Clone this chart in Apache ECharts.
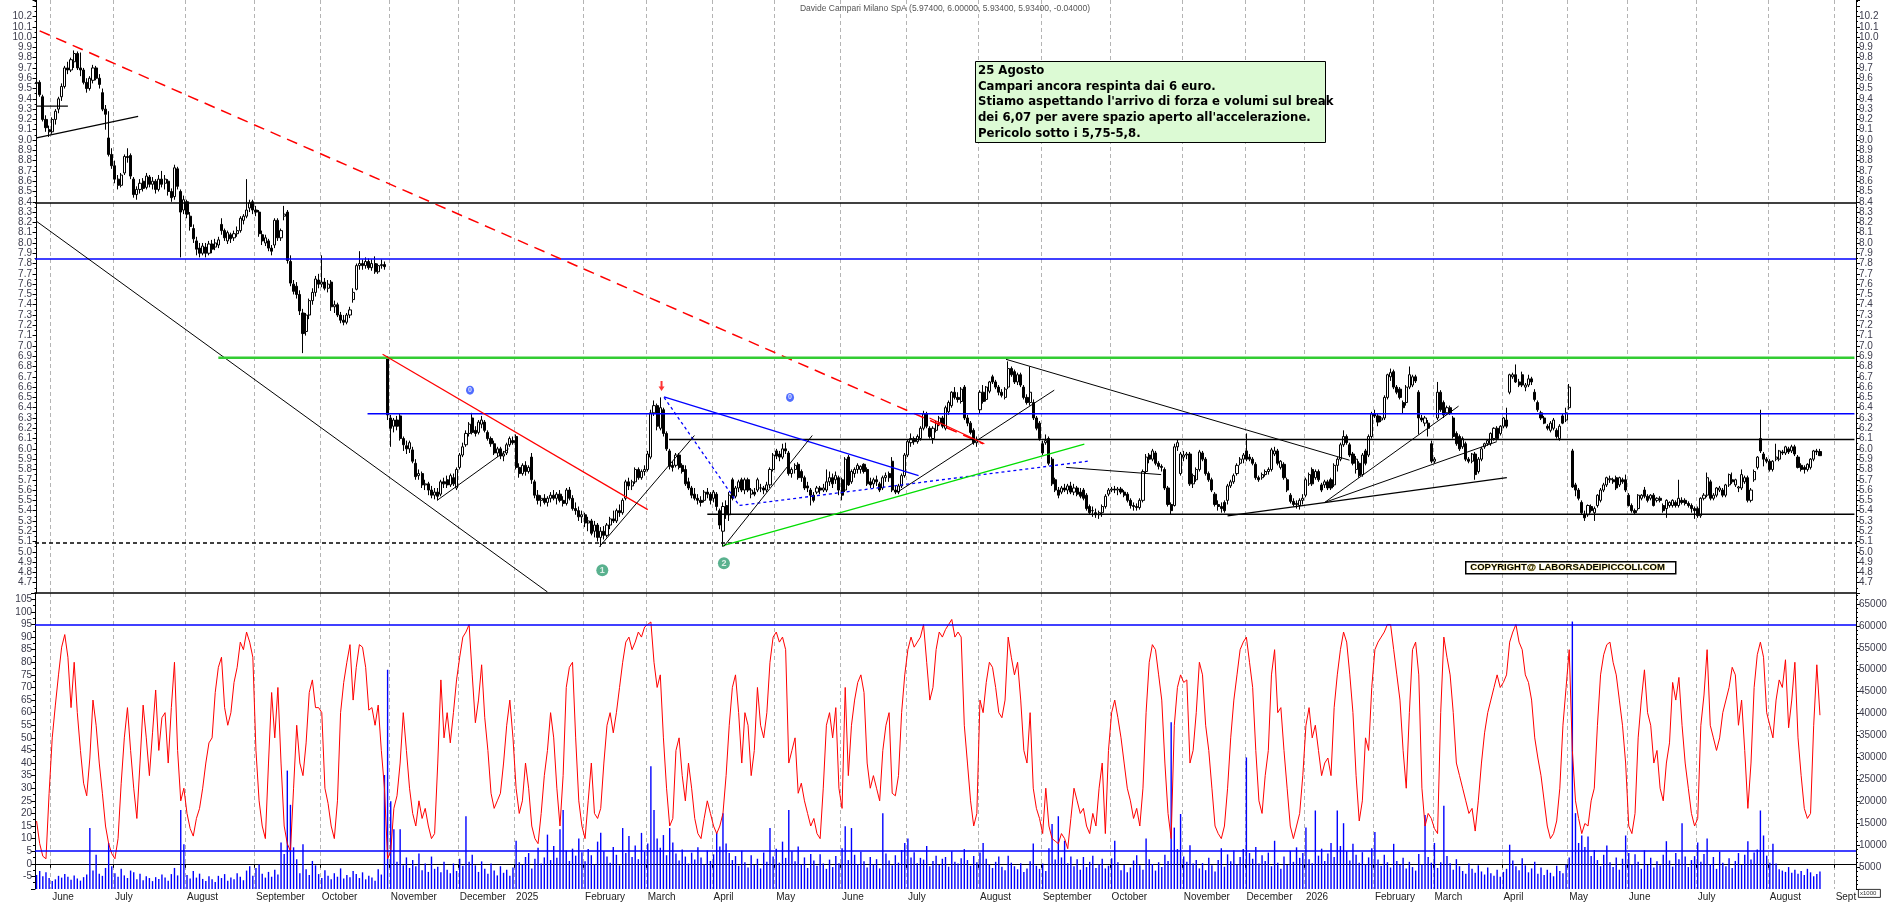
<!DOCTYPE html>
<html><head><meta charset="utf-8">
<script src="https://cdn.jsdelivr.net/npm/echarts@6/dist/echarts.min.js"></script>
<style>html,body{margin:0;padding:0;background:#fff;}#c{width:1890px;height:902px;}</style>
</head><body><div id="c"></div>
<script>
// daily candles [open, high, low, close]
const ohlc = [
[9.55,9.62,9.50,9.56],[9.56,9.58,9.42,9.44],[9.42,9.44,9.18,9.20],[9.20,9.24,9.08,9.12],[9.10,9.14,9.03,9.08],
[9.08,9.22,9.06,9.20],[9.20,9.30,9.15,9.28],[9.30,9.42,9.26,9.40],[9.42,9.55,9.38,9.52],[9.52,9.72,9.50,9.70],
[9.70,9.76,9.64,9.68],[9.68,9.80,9.66,9.78],[9.76,9.87,9.70,9.84],[9.84,9.86,9.68,9.70],[9.70,9.85,9.62,9.68],
[9.68,9.70,9.54,9.56],[9.56,9.60,9.46,9.50],[9.50,9.62,9.48,9.60],[9.58,9.73,9.55,9.70],[9.70,9.72,9.58,9.60],
[9.60,9.64,9.50,9.54],[9.46,9.50,9.28,9.30],[9.30,9.34,9.10,9.25],[9.02,9.28,8.84,8.86],[8.86,8.92,8.72,8.75],
[8.75,8.80,8.58,8.62],[8.62,8.66,8.52,8.56],[8.56,8.68,8.54,8.66],[8.68,8.86,8.66,8.84],[8.84,8.92,8.78,8.83],
[8.85,8.87,8.62,8.65],[8.62,8.64,8.44,8.47],[8.47,8.55,8.42,8.52],[8.52,8.62,8.48,8.58],[8.60,8.63,8.50,8.53],
[8.54,8.68,8.52,8.65],[8.64,8.66,8.54,8.57],[8.57,8.64,8.52,8.60],[8.60,8.62,8.48,8.52],[8.52,8.66,8.50,8.62],
[8.62,8.70,8.54,8.57],[8.58,8.66,8.52,8.62],[8.60,8.62,8.46,8.50],[8.50,8.53,8.40,8.44],[8.45,8.76,8.42,8.73],
[8.72,8.74,8.52,8.55],[8.50,8.52,7.86,8.30],[8.32,8.46,8.28,8.42],[8.40,8.42,8.24,8.28],[8.26,8.30,8.12,8.16],
[8.14,8.18,8.00,8.04],[8.02,8.06,7.88,7.94],[7.95,8.00,7.86,7.90],[7.90,8.00,7.88,7.97],[7.96,8.00,7.86,7.90],
[7.90,8.02,7.88,7.99],[7.99,8.03,7.90,7.94],[7.96,8.04,7.93,8.00],[7.98,8.06,7.95,8.03],[8.18,8.24,8.08,8.12],
[8.12,8.14,8.02,8.05],[8.02,8.12,7.99,8.10],[8.08,8.10,8.00,8.04],[8.05,8.12,8.02,8.09],[8.09,8.16,8.06,8.12],
[8.12,8.26,8.10,8.24],[8.22,8.28,8.18,8.26],[8.26,8.62,8.24,8.32],[8.34,8.42,8.30,8.39],[8.40,8.42,8.28,8.32],
[8.32,8.36,8.26,8.30],[8.30,8.32,8.06,8.09],[8.08,8.12,7.98,8.02],[8.00,8.08,7.97,8.05],[8.02,8.04,7.92,7.95],
[7.95,7.98,7.88,7.92],[7.98,8.24,7.95,8.22],[8.22,8.24,8.02,8.05],[8.05,8.14,8.02,8.12],[8.26,8.36,8.22,8.28],
[8.30,8.32,7.80,7.83],[7.82,7.88,7.58,7.61],[7.60,7.64,7.50,7.53],[7.58,7.62,7.46,7.50],[7.50,7.54,7.30,7.34],
[7.32,7.36,6.93,7.12],[7.14,7.32,7.10,7.30],[7.30,7.46,7.26,7.44],[7.44,7.56,7.40,7.52],[7.52,7.68,7.48,7.65],
[7.64,7.70,7.56,7.60],[7.60,7.88,7.57,7.62],[7.62,7.66,7.54,7.56],[7.56,7.64,7.52,7.60],[7.62,7.64,7.34,7.38],
[7.38,7.44,7.32,7.40],[7.40,7.42,7.28,7.30],[7.30,7.33,7.22,7.25],[7.25,7.30,7.20,7.23],[7.23,7.32,7.21,7.30],
[7.30,7.38,7.27,7.35],[7.45,7.56,7.42,7.52],[7.55,7.80,7.54,7.78],[7.78,7.92,7.74,7.80],[7.80,7.84,7.74,7.78],
[7.78,7.86,7.75,7.82],[7.82,7.85,7.74,7.76],[7.76,7.84,7.73,7.80],[7.80,7.87,7.70,7.72],[7.72,7.80,7.70,7.78],
[7.78,7.84,7.75,7.79],[7.79,7.82,7.74,7.77],[6.88,6.90,6.28,6.33],[6.30,6.33,6.02,6.20],[6.22,6.30,6.16,6.28],
[6.28,6.32,6.18,6.22],[6.32,6.34,6.08,6.10],[6.10,6.12,5.98,6.04],[6.03,6.08,5.95,6.00],[6.00,6.08,5.96,6.06],
[5.99,6.02,5.86,5.88],[5.86,5.90,5.70,5.73],[5.74,5.80,5.70,5.76],[5.76,5.78,5.62,5.65],[5.65,5.70,5.60,5.66],
[5.66,5.68,5.55,5.60],[5.60,5.64,5.52,5.55],[5.55,5.62,5.51,5.58],[5.58,5.62,5.50,5.54],[5.56,5.70,5.54,5.68],
[5.68,5.72,5.62,5.66],[5.70,5.74,5.62,5.65],[5.65,5.76,5.63,5.74],[5.72,5.76,5.64,5.66],[5.62,5.82,5.60,5.80],
[5.82,5.96,5.80,5.94],[5.94,6.06,5.92,6.02],[6.04,6.18,6.02,6.15],[6.15,6.26,6.12,6.24],[6.30,6.35,6.14,6.16],
[6.18,6.22,6.12,6.15],[6.16,6.28,6.14,6.26],[6.24,6.32,6.20,6.28],[6.26,6.28,6.16,6.18],[6.16,6.18,6.08,6.10],
[6.10,6.12,6.02,6.05],[6.05,6.08,5.94,5.96],[5.96,6.02,5.92,6.00],[6.00,6.02,5.90,5.93],[5.93,5.98,5.88,5.95],
[5.96,6.06,5.94,6.04],[6.04,6.12,6.02,6.10],[6.08,6.12,6.04,6.06],[6.12,6.14,5.80,5.82],[5.82,5.86,5.72,5.76],
[5.76,5.86,5.74,5.84],[5.84,5.88,5.74,5.78],[5.78,5.84,5.76,5.82],[5.92,5.96,5.66,5.70],[5.68,5.70,5.52,5.55],
[5.55,5.60,5.46,5.50],[5.50,5.55,5.44,5.52],[5.52,5.56,5.46,5.48],[5.48,5.54,5.44,5.52],[5.52,5.58,5.48,5.55],
[5.55,5.60,5.50,5.52],[5.52,5.58,5.46,5.56],[5.56,5.60,5.48,5.50],[5.50,5.54,5.44,5.47],[5.47,5.62,5.45,5.60],
[5.60,5.63,5.50,5.52],[5.52,5.55,5.40,5.42],[5.42,5.48,5.36,5.40],[5.40,5.44,5.30,5.34],[5.34,5.40,5.28,5.36],
[5.36,5.38,5.24,5.28],[5.28,5.34,5.20,5.30],[5.30,5.32,5.16,5.18],[5.20,5.30,5.14,5.26],[5.26,5.28,5.10,5.14],
[5.14,5.24,5.05,5.20],[5.20,5.25,5.12,5.16],[5.16,5.28,5.14,5.26],[5.26,5.34,5.22,5.32],[5.32,5.40,5.28,5.30],
[5.30,5.42,5.28,5.40],[5.40,5.46,5.34,5.38],[5.38,5.52,5.36,5.50],[5.52,5.70,5.50,5.68],[5.68,5.72,5.60,5.64],
[5.64,5.70,5.60,5.68],[5.68,5.82,5.66,5.80],[5.80,5.82,5.70,5.72],[5.72,5.80,5.70,5.78],[5.78,5.84,5.74,5.80],
[5.80,5.98,5.78,5.95],[5.92,6.38,5.90,6.35],[6.35,6.47,6.32,6.42],[6.42,6.44,6.18,6.22],[6.20,6.50,6.18,6.40],
[6.38,6.40,6.12,6.15],[6.15,6.17,5.98,6.00],[5.98,6.00,5.80,5.83],[5.84,5.88,5.78,5.82],[5.84,5.96,5.82,5.94],
[5.94,5.96,5.80,5.82],[5.84,5.86,5.76,5.78],[5.80,5.84,5.64,5.66],[5.68,5.72,5.60,5.62],[5.62,5.64,5.52,5.55],
[5.56,5.62,5.50,5.52],[5.52,5.56,5.46,5.50],[5.50,5.54,5.44,5.48],[5.50,5.60,5.48,5.58],[5.58,5.62,5.52,5.56],
[5.56,5.58,5.46,5.50],[5.52,5.60,5.48,5.58],[5.56,5.58,5.40,5.44],[5.40,5.42,5.22,5.26],[5.20,5.48,5.05,5.44],
[5.45,5.50,5.32,5.36],[5.36,5.58,5.30,5.55],[5.70,5.72,5.50,5.52],[5.54,5.64,5.52,5.62],[5.62,5.70,5.58,5.68],
[5.70,5.72,5.58,5.60],[5.60,5.72,5.56,5.70],[5.70,5.72,5.58,5.60],[5.56,5.62,5.52,5.60],[5.58,5.62,5.54,5.56],
[5.60,5.72,5.58,5.70],[5.62,5.66,5.58,5.62],[5.62,5.64,5.56,5.60],[5.60,5.68,5.58,5.65],[5.65,5.82,5.62,5.80],
[5.80,5.96,5.78,5.94],[5.98,6.00,5.90,5.93],[5.95,5.98,5.88,5.92],[5.92,6.05,5.90,6.00],[6.00,6.06,5.95,5.98],
[5.96,5.98,5.74,5.76],[5.76,5.82,5.72,5.80],[5.80,5.86,5.76,5.84],[5.85,5.87,5.70,5.72],[5.78,5.80,5.68,5.72],
[5.72,5.74,5.60,5.62],[5.64,5.68,5.58,5.62],[5.60,5.62,5.45,5.55],[5.55,5.58,5.48,5.50],[5.58,5.64,5.56,5.62],
[5.62,5.64,5.56,5.60],[5.60,5.66,5.58,5.62],[5.60,5.80,5.58,5.68],[5.68,5.78,5.64,5.72],[5.72,5.76,5.62,5.66],
[5.70,5.78,5.66,5.74],[5.72,5.74,5.55,5.60],[5.70,5.72,5.50,5.55],[5.60,5.92,5.58,5.90],[5.92,5.94,5.64,5.65],
[5.68,5.80,5.66,5.78],[5.76,5.82,5.72,5.80],[5.80,5.86,5.76,5.84],[5.80,5.84,5.76,5.83],[5.85,5.86,5.76,5.78],
[5.80,5.82,5.64,5.66],[5.68,5.72,5.62,5.65],[5.66,5.72,5.62,5.70],[5.70,5.74,5.64,5.68],[5.66,5.68,5.58,5.60],
[5.62,5.74,5.60,5.72],[5.72,5.77,5.68,5.74],[5.76,5.78,5.68,5.72],[5.88,5.92,5.58,5.60],[5.60,5.64,5.56,5.58],
[5.58,5.66,5.56,5.64],[5.64,5.76,5.62,5.74],[5.74,5.96,5.72,5.94],[5.94,6.09,5.92,6.07],[6.06,6.15,6.02,6.10],
[6.10,6.12,6.04,6.07],[6.07,6.14,6.05,6.12],[6.10,6.22,6.08,6.20],[6.20,6.37,6.18,6.34],[6.34,6.36,6.20,6.22],
[6.20,6.22,6.10,6.12],[6.10,6.22,6.05,6.20],[6.18,6.27,6.16,6.25],[6.25,6.32,6.22,6.30],[6.30,6.32,6.20,6.22],
[6.20,6.42,6.18,6.40],[6.36,6.47,6.33,6.45],[6.42,6.56,6.40,6.55],[6.55,6.60,6.48,6.50],[6.50,6.55,6.45,6.48],
[6.46,6.60,6.44,6.58],[6.60,6.62,6.28,6.30],[6.30,6.33,6.22,6.25],[6.25,6.27,6.14,6.16],[6.18,6.20,6.04,6.06],
[6.06,6.12,6.02,6.08],[6.38,6.57,6.34,6.55],[6.55,6.62,6.44,6.46],[6.48,6.61,6.46,6.60],[6.56,6.66,6.54,6.65],
[6.70,6.72,6.63,6.65],[6.65,6.67,6.58,6.60],[6.60,6.62,6.52,6.55],[6.55,6.58,6.50,6.52],[6.50,6.60,6.48,6.58],
[6.60,6.85,6.58,6.78],[6.78,6.80,6.70,6.72],[6.75,6.77,6.63,6.65],[6.65,6.74,6.62,6.72],[6.72,6.74,6.60,6.62],
[6.60,6.62,6.48,6.50],[6.50,6.53,6.43,6.45],[6.45,6.80,6.42,6.55],[6.45,6.48,6.28,6.30],[6.30,6.32,6.18,6.20],
[6.25,6.27,6.08,6.10],[6.05,6.08,5.94,5.96],[6.06,6.14,6.04,6.08],[6.10,6.12,5.84,5.86],[5.90,5.92,5.64,5.66],
[5.70,5.72,5.58,5.60],[5.60,5.63,5.52,5.55],[5.58,5.64,5.56,5.62],[5.62,5.66,5.58,5.60],[5.60,5.66,5.56,5.64],
[5.64,5.68,5.56,5.58],[5.58,5.66,5.55,5.62],[5.62,5.64,5.54,5.56],[5.58,5.62,5.52,5.54],[5.60,5.62,5.50,5.52],
[5.55,5.57,5.40,5.42],[5.44,5.46,5.36,5.38],[5.40,5.44,5.34,5.40],[5.38,5.42,5.33,5.36],[5.36,5.40,5.32,5.38],
[5.38,5.46,5.34,5.44],[5.44,5.56,5.42,5.54],[5.56,5.62,5.54,5.60],[5.60,5.63,5.58,5.61],[5.61,5.64,5.57,5.60],
[5.60,5.63,5.55,5.61],[5.61,5.63,5.56,5.58],[5.58,5.60,5.53,5.55],[5.56,5.58,5.48,5.50],[5.50,5.52,5.42,5.45],
[5.45,5.48,5.40,5.44],[5.44,5.47,5.40,5.43],[5.43,5.52,5.41,5.50],[5.50,5.80,5.48,5.78],[5.78,5.95,5.76,5.92],
[5.94,5.96,5.86,5.90],[5.90,6.00,5.88,5.98],[5.96,5.98,5.84,5.86],[5.86,5.88,5.80,5.83],[5.83,5.85,5.78,5.82],
[5.80,5.82,5.60,5.62],[5.62,5.64,5.44,5.46],[5.46,5.48,5.36,5.40],[5.45,6.05,5.44,6.02],[6.02,6.09,5.98,6.06],
[5.76,5.97,5.74,5.95],[5.92,5.98,5.88,5.94],[5.94,5.97,5.90,5.95],[5.95,5.97,5.64,5.66],[5.66,5.76,5.62,5.74],
[5.70,5.82,5.68,5.80],[5.80,5.99,5.78,5.97],[5.96,5.98,5.88,5.90],[5.90,5.92,5.74,5.76],[5.76,5.78,5.68,5.70],
[5.70,5.72,5.58,5.60],[5.56,5.58,5.44,5.46],[5.46,5.50,5.40,5.44],[5.44,5.48,5.38,5.42],[5.48,5.50,5.38,5.40],
[5.50,5.66,5.46,5.64],[5.64,5.70,5.62,5.68],[5.68,5.76,5.66,5.74],[5.76,5.86,5.74,5.84],[5.86,5.92,5.84,5.90],
[5.90,5.96,5.86,5.94],[5.98,6.15,5.88,5.90],[5.92,5.95,5.88,5.90],[5.90,5.92,5.84,5.86],[5.85,5.87,5.70,5.72],
[5.72,5.74,5.68,5.70],[5.72,5.77,5.70,5.75],[5.75,5.80,5.73,5.78],[5.78,5.82,5.75,5.80],[5.80,6.01,5.78,5.99],
[5.95,6.02,5.93,5.98],[5.98,6.00,5.84,5.86],[5.82,5.89,5.80,5.88],[5.85,5.87,5.70,5.72],[5.70,5.72,5.58,5.60],
[5.55,5.57,5.47,5.49],[5.49,5.52,5.44,5.46],[5.46,5.50,5.42,5.47],[5.45,5.52,5.41,5.50],[5.50,5.56,5.46,5.52],
[5.55,5.72,5.53,5.70],[5.66,5.77,5.64,5.75],[5.80,5.82,5.64,5.66],[5.72,5.80,5.70,5.78],[5.78,5.80,5.68,5.70],
[5.65,5.67,5.58,5.60],[5.65,5.70,5.62,5.68],[5.68,5.70,5.60,5.62],[5.70,5.72,5.60,5.62],[5.65,5.86,5.63,5.84],
[5.84,5.92,5.78,5.90],[5.90,6.06,5.88,6.04],[6.04,6.18,6.02,6.12],[6.12,6.14,6.04,6.06],[6.04,6.06,5.92,5.94],
[5.95,5.97,5.84,5.86],[5.80,5.93,5.76,5.90],[5.86,5.88,5.72,5.74],[5.75,5.96,5.73,5.94],[5.98,6.00,5.84,5.86],
[5.94,6.14,5.92,6.12],[6.12,6.36,6.10,6.34],[6.34,6.38,6.30,6.32],[6.32,6.34,6.22,6.26],[6.28,6.32,6.26,6.30],
[6.30,6.52,6.28,6.50],[6.50,6.73,6.48,6.72],[6.70,6.78,6.66,6.74],[6.75,6.77,6.58,6.60],[6.60,6.62,6.53,6.55],
[6.58,6.60,6.48,6.50],[6.45,6.47,6.34,6.40],[6.45,6.62,6.42,6.60],[6.60,6.80,6.58,6.72],[6.62,6.72,6.60,6.70],
[6.70,6.72,6.64,6.66],[6.55,6.57,6.14,6.30],[6.30,6.33,6.26,6.28],[6.25,6.32,6.22,6.30],[6.25,6.28,6.12,6.20],
[6.05,6.08,5.86,5.88],[5.88,5.92,5.86,5.90],[6.30,6.65,6.28,6.55],[6.55,6.57,6.36,6.38],[6.45,6.47,6.30,6.33],
[6.35,6.42,6.33,6.40],[6.40,6.42,6.33,6.35],[6.30,6.32,6.10,6.12],[6.15,6.17,6.03,6.05],[6.12,6.14,5.98,6.00],
[6.02,6.12,6.00,6.10],[6.05,6.07,5.88,5.90],[5.90,5.92,5.86,5.88],[5.88,5.96,5.86,5.95],[5.95,5.97,5.70,5.75],
[5.78,5.92,5.76,5.90],[5.90,6.02,5.88,6.00],[6.02,6.06,6.00,6.05],[6.05,6.09,6.03,6.08],[6.05,6.16,6.03,6.15],
[6.10,6.21,6.08,6.20],[6.20,6.22,6.08,6.10],[6.15,6.23,6.13,6.22],[6.22,6.31,6.20,6.30],[6.28,6.40,6.20,6.22],
[6.55,6.73,6.53,6.72],[6.70,6.74,6.68,6.72],[6.72,6.82,6.64,6.65],[6.65,6.68,6.60,6.62],[6.72,6.75,6.60,6.62],
[6.60,6.64,6.56,6.62],[6.62,6.72,6.60,6.68],[6.68,6.70,6.62,6.65],[6.55,6.58,6.46,6.48],[6.45,6.47,6.36,6.38],
[6.35,6.37,6.28,6.30],[6.30,6.32,6.24,6.25],[6.22,6.24,6.18,6.20],[6.18,6.27,6.16,6.25],[6.20,6.30,6.18,6.28],
[6.18,6.20,6.10,6.12],[6.10,6.24,6.08,6.22],[6.32,6.34,6.24,6.25],[6.28,6.40,6.26,6.35],[6.40,6.63,6.38,6.60],
[5.98,6.00,5.62,5.63],[5.65,5.67,5.54,5.60],[5.60,5.62,5.50,5.52],[5.48,5.50,5.36,5.38],[5.36,5.40,5.30,5.33],
[5.36,5.46,5.34,5.45],[5.44,5.46,5.38,5.40],[5.38,5.44,5.30,5.42],[5.45,5.56,5.43,5.55],[5.50,5.62,5.48,5.60],
[5.60,5.67,5.58,5.65],[5.65,5.73,5.63,5.72],[5.70,5.74,5.67,5.71],[5.70,5.72,5.66,5.68],[5.72,5.74,5.60,5.62],
[5.65,5.73,5.63,5.72],[5.70,5.72,5.66,5.68],[5.70,5.75,5.58,5.60],[5.55,5.57,5.44,5.45],[5.45,5.47,5.38,5.40],
[5.40,5.42,5.36,5.38],[5.42,5.56,5.40,5.55],[5.52,5.56,5.50,5.55],[5.60,5.63,5.52,5.54],[5.54,5.56,5.48,5.50],
[5.52,5.56,5.50,5.55],[5.55,5.57,5.44,5.45],[5.50,5.53,5.48,5.52],[5.52,5.54,5.48,5.50],[5.45,5.47,5.38,5.40],
[5.42,5.51,5.33,5.50],[5.45,5.49,5.43,5.48],[5.45,5.51,5.43,5.50],[5.48,5.50,5.43,5.45],[5.45,5.70,5.43,5.52],
[5.50,5.53,5.46,5.48],[5.50,5.52,5.45,5.47],[5.47,5.49,5.43,5.45],[5.45,5.47,5.38,5.42],[5.42,5.44,5.32,5.40],
[5.42,5.44,5.33,5.35],[5.35,5.53,5.33,5.52],[5.52,5.57,5.50,5.55],[5.55,5.77,5.53,5.72],[5.68,5.70,5.50,5.52],
[5.52,5.57,5.50,5.55],[5.55,5.63,5.53,5.62],[5.60,5.64,5.58,5.62],[5.60,5.62,5.53,5.55],[5.55,5.66,5.53,5.65],
[5.65,5.76,5.63,5.75],[5.70,5.77,5.66,5.68],[5.65,5.71,5.63,5.70],[5.62,5.64,5.58,5.63],[5.62,5.80,5.60,5.75],
[5.68,5.74,5.66,5.72],[5.72,5.74,5.48,5.50],[5.50,5.62,5.48,5.60],[5.70,5.80,5.68,5.78],[5.82,5.93,5.80,5.92],
[6.10,6.38,5.96,5.98],[5.95,5.97,5.83,5.90],[5.90,5.92,5.86,5.88],[5.88,5.90,5.78,5.80],[5.80,5.89,5.78,5.88],
[5.90,6.05,5.88,5.92],[5.90,5.99,5.88,5.98],[5.97,5.99,5.94,5.96],[5.96,6.03,5.94,6.02],[6.00,6.02,5.95,5.97],
[5.98,6.04,5.96,6.02],[6.02,6.04,5.93,5.95],[5.92,5.94,5.81,5.82],[5.84,5.86,5.78,5.80],[5.82,5.84,5.76,5.80],
[5.80,5.86,5.78,5.85],[5.82,5.91,5.80,5.90],[5.90,5.99,5.88,5.98],[5.98,6.00,5.94,5.97],[5.974,6.00,5.934,5.934]
];

// oscillator (left scale of lower panel)
const oscillator = [
17,8,3,2,28,50,63,75,86,91, 82,62,80,60,45,32,27,42,65,55, 40,28,15,8,4,2,10,32,50,62,
45,30,18,40,63,50,35,52,69,45, 58,60,40,62,80,45,25,30,20,14, 11,18,22,30,40,48,50,68,78,82,
62,55,60,72,78,88,85,92,88,82, 45,25,15,10,40,68,50,70,40,15, 8,5,30,55,40,35,48,68,73,62,
62,60,30,24,15,10,25,60,72,80, 87,65,78,87,86,78,61,62,55,63, 45,30,2,5,22,27,40,60,45,30,
20,15,25,18,22,15,10,12,40,73, 50,60,48,60,73,82,90,92,95,75, 56,65,79,58,45,28,22,25,28,40,
55,65,50,30,20,25,40,30,15,10, 8,20,35,45,60,50,30,15,35,70, 78,80,50,25,15,10,25,40,20,18,
22,40,55,60,52,60,70,80,88,90, 85,88,92,90,94,95,96,80,70,75, 50,30,15,18,45,50,35,25,40,30,
18,12,10,18,25,20,15,12,15,20, 35,55,70,75,60,40,60,55,35,45, 70,55,50,60,80,90,92,88,90,85,
40,45,50,28,32,25,20,15,18,12, 10,30,55,60,50,62,30,22,70,35, 55,65,72,75,68,40,30,35,30,25,
45,55,60,28,27,35,60,75,85,90, 86,88,90,95,80,65,70,85,92,90, 93,95,97,90,92,90,55,40,25,15,
20,65,60,72,80,78,70,60,58,65, 90,82,75,80,65,45,40,60,30,22, 18,12,30,15,10,9,8,12,10,6,
18,30,25,20,22,15,12,20,15,30, 40,12,45,60,65,58,50,40,30,25, 18,22,15,30,60,80,87,85,75,65,
40,20,10,55,70,75,72,73,40,45, 60,80,75,55,45,30,15,12,10,15, 30,50,65,75,85,88,90,80,70,45,
25,20,35,45,75,85,60,62,45,30, 15,10,15,20,35,55,62,50,55,45, 35,40,42,35,62,75,85,92,88,75,
60,35,17,25,50,45,70,85,88,90, 92,95,95,85,75,65,45,30,60,85, 88,75,30,15,20,18,14,12,60,90,
82,75,60,40,35,30,25,20,22,13, 25,40,52,60,65,70,75,70,72,75, 88,92,95,88,85,75,72,65,50,42,
35,25,15,10,12,17,30,55,70,85, 45,25,18,12,16,15,25,30,55,75, 83,87,88,80,75,65,55,40,15,12,
20,50,65,77,60,55,40,45,30,25, 40,48,72,65,74,55,40,30,20,15, 18,55,67,85,55,50,45,50,60,65,
70,78,75,55,65,45,22,40,70,83, 88,82,60,55,50,65,73,70,81,54, 65,80,50,35,22,18,20,55,79,59
];

// volume (right scale of lower panel)
const volume = [
3200,4100,2900,3800,2500,1800,2200,3000,2600,3400, 2800,2100,3100,2400,1900,2700,3300,13900,4200,7800,
3500,3000,4800,10500,5200,3600,2800,4600,3100,2500, 4200,3800,2200,3500,2000,2900,2500,1800,2700,2300,
3300,2600,1900,3400,4800,3100,18000,10200,3200,2400, 4100,2600,3500,2300,1800,2900,2200,1600,3000,2500,
3400,1900,2600,2200,3600,2800,2000,4200,5200,3000, 4800,5600,3500,2600,3900,2800,4400,3300,10600,8000,
27000,19200,9500,6800,3600,10200,4500,3200,6400,5400, 3400,2500,4300,3000,2200,3600,2800,4700,2400,3200,
2700,4100,3400,2500,3800,2200,3000,2600,1900,4500, 3300,26000,50000,20000,13600,6200,13600,5400,7200,4800,
6600,5200,8100,4300,5800,3900,7400,4600,5100,3800, 6200,4400,3600,5800,4100,6900,5300,16600,6200,7800,
5400,3900,6300,4600,3500,5800,4200,3100,5200,3700, 4400,3000,4900,11000,6100,5500,7300,8200,4700,6900,
9400,5800,7200,12400,6600,9800,7100,13600,18000,8800, 6400,9200,7600,11500,8400,6300,9100,7700,5600,10800,
12800,8600,7400,6000,9600,7800,5400,13900,8200,12100, 7300,9900,6800,12800,8500,10400,28000,18000,11500,9400,
12300,7700,13900,10600,8100,6500,9000,7400,5800,8300, 6700,9500,7200,5600,8800,6400,7900,12800,9700,17300,
10400,8200,6600,7500,5300,8700,6100,4900,7700,5500, 6900,4700,8300,6200,13900,7400,9200,6000,10800,7100,
18000,8600,6300,9700,5600,7200,4800,8000,6500,5300, 7900,5800,4600,6700,5000,7500,5900,9300,14300,6600,
13900,7800,5700,8500,6300,4900,7300,5600,6800,4700, 17300,8100,6500,5400,7700,6000,8900,10500,11500,7200,
8400,5900,7100,6700,9800,5200,6400,7600,5500,6900, 7300,5100,8600,6200,5800,7000,9100,6600,5300,7500,
6100,8300,10500,6900,5600,4800,6200,7400,5100,4300, 7600,6000,5200,4500,5900,3900,4700,6300,10400,5300,
4600,5800,4100,9300,14800,6700,16600,7200,11000,5900, 7400,5200,6800,4400,7300,5000,6200,7600,4800,5600,
6900,4700,5300,7000,11000,6100,4300,5500,3800,4900, 6500,7700,5400,4400,11500,6800,5700,4200,6100,5000,
7800,6400,38000,14000,9100,17100,7400,6200,10000,5800, 6600,4700,5900,4300,7100,5400,4000,6600,9300,5100,
7900,6300,8800,5600,7300,9100,30000,8200,6900,9600, 5800,7700,6400,8300,5200,11000,6000,4600,7400,5500,
8700,6200,9500,7100,8200,14000,6800,5900,17900,7600, 9200,6400,8100,10500,7300,17900,9800,15000,8600,6500,
10300,7800,6000,8400,5600,7200,9300,13000,6700,5300, 7800,6100,4900,10300,6400,5500,7100,4700,6200,5000,
4200,8000,5600,16900,7300,6000,10500,4800,6100,19000, 7500,5900,4400,6800,5200,4100,3500,5800,4600,3700,
5400,4000,3300,4900,3600,3000,4400,2800,3900,4600, 10100,6500,5200,4300,7000,5400,3800,4700,6200,3500,
4900,3200,4400,3700,2900,5300,4100,3600,5600,7200, 61000,17300,10500,12200,9600,12000,7500,8900,6600,5200,
7800,9900,6100,5000,7200,4400,6900,12200,8200,5600, 7900,6200,4600,8800,5500,7100,4900,6300,5400,7800,
10900,6500,5100,8200,6800,15000,7400,5000,6600,7500, 10600,6200,8000,11500,5700,7300,4600,8500,6000,5200,
7000,4800,6400,8200,5500,7800,10900,6700,8300,9000, 17900,12200,7600,6000,10300,5800,4500,4200,3900,5000,
3700,4400,3500,4100,3200,4600,3800,2900,3400,4000
];

// month start positions (trading-day index) and their labels
const monthTicks = [[5,'June'],[25,'July'],[48,'August'],[70,'September'],[91,'October'],[113,'November'],
[135,'December'],[153,'2025'],[175,'February'],[195,'March'],[216,'April'],[236,'May'],[257,'June'],
[278,'July'],[301,'August'],[321,'September'],[343,'October'],[366,'November'],[386,'December'],
[405,'2026'],[427,'February'],[446,'March'],[468,'April'],[489,'May'],[508,'June'],[530,'July'],
[553,'August'],[574,'Sept']];

// horizontal levels
const levelBlackHigh = 8.39;
const levelBlueHigh = 7.85;
const levelDashed = 5.086;
const oscLevels = [95, 5];

// drawn trend lines [index, price]
const lineRedDashed = [[1,10.06],[302,6.05]];
const lineBlackLong = [[0,8.21],[163,4.61]];
const lineBlackFlat1 = [[0,9.33],[10,9.33]];
const lineBlackRise1 = [[0,9.02],[32.4,9.23]];
const lineGreenLevel = [[58,6.885],[580,6.885]];
const lineBlueLevel = [[105.6,6.34],[580,6.34]];
const lineBlackLevel1 = [[201.8,6.09],[580,6.09]];
const lineBlackLevel2 = [[214,5.365],[580,5.365]];
const lineRedDown = [[110.4,6.92],[195,5.41]];
const lineBlueDown = [[200.2,6.505],[281.4,5.74]];
const lineBlueDotted = [[200.2,6.50],[224.2,5.45],[335.4,5.88]];
const lineGreenRise = [[219,5.06],[334.3,6.045]];
const lineBlackRise2 = [[274.7,5.58],[324.7,6.57]];
const lineBlackDown2 = [[309.3,6.87],[418.9,5.89]];
const lineBlackFlat2 = [[328.5,5.82],[358.8,5.75]];
const lineRedShort = [[284.9,6.30],[302.4,6.05]];
const lineBlackRise3 = [[127.8,5.50],[150.6,6.00]];
const lineBlackRise4 = [[179.6,5.05],[209.9,6.13]];
const lineBlackRise5 = [[219.2,5.05],[247.5,6.13]];
const fan1 = [[411,5.48],[453.7,6.415]];
const fan2 = [[411,5.48],[465.9,6.07]];
const fan3 = [[380,5.35],[469.1,5.72]];

// annotation markers
const greenMarks = [[180.5,4.82,'1'],[219.3,4.89,'2']];
const blueMarks = [[138.3,6.57],[240.4,6.50]];
const redArrows = [[199.4,6.61]];

const titleText = 'Davide Campari Milano SpA (5.97400, 6.00000, 5.93400, 5.93400, -0.04000)';
const noteLines = ['25 Agosto','Campari ancora respinta dai 6 euro.',
 "Stiamo aspettando l'arrivo di forza e volumi sul break",
 "dei 6,07 per avere spazio aperto all'accelerazione.",'Pericolo sotto i 5,75-5,8.'];
const copyrightText = 'COPYRIGHT@ LABORSADEIPICCOLI.COM';

// ---------- build ----------
const SLOTS = 581;
const cats = Array.from({length: SLOTS}, (_, i) => i);
const monthMap = new Map(monthTicks.map(m => [m[0], m[1]]));
const isMonth = (i) => monthMap.has(i);
const axisFont = 'Liberation Sans, Arial, sans-serif';

function seg(data, color, width, type, z) {
  return { type: 'line', xAxisIndex: 2, yAxisIndex: 0, data: data, showSymbol: false, symbol: 'none',
    silent: true, animation: false, z: z || 5,
    lineStyle: { color: color, width: width, type: type || 'solid' } };
}
const splitDash = { show: true, interval: (i) => isMonth(i), lineStyle: { color: '#b4b4b4', width: 1, type: [4, 3] } };
const yLab = { fontSize: 10, color: '#3c3c4c', margin: 3, fontFamily: axisFont };

const option = {
  animation: false,
  backgroundColor: '#ffffff',
  grid: [
    { left: 35, right: 34, top: 0, height: 593 },
    { left: 35, right: 34, top: 593, height: 296 }
  ],
  xAxis: [
    { type: 'category', gridIndex: 0, data: cats, boundaryGap: true,
      axisLine: { show: true, lineStyle: { color: '#000', width: 1.5 } },
      axisTick: { show: false }, axisLabel: { show: false }, splitLine: splitDash },
    { type: 'category', gridIndex: 1, data: cats, boundaryGap: true,
      axisLine: { show: true, lineStyle: { color: '#000', width: 1 } },
      axisTick: { show: true, interval: (i) => isMonth(i), length: 4, lineStyle: { color: '#000' } },
      axisLabel: { show: true, interval: (i) => isMonth(i), formatter: (v) => monthMap.get(+v) || '',
        align: 'left', fontSize: 10, color: '#222', margin: 3, fontFamily: axisFont },
      splitLine: splitDash },
    { type: 'value', gridIndex: 0, min: -0.5, max: SLOTS - 0.5, show: false }
  ],
  yAxis: [
    { type: 'value', gridIndex: 0, position: 'left', min: 4.6, max: 10.36, interval: 0.1,
      axisLine: { show: true, lineStyle: { color: '#000' } },
      axisTick: { show: true, length: 4, lineStyle: { color: '#000' } },
      minorTick: { show: true, splitNumber: 2, length: 2, lineStyle: { color: '#000' } },
      splitLine: { show: false },
      axisLabel: Object.assign({}, yLab, { formatter: (v) => (v < 4.65 || v > 10.25) ? '' : v.toFixed(1) }) },
    { type: 'value', gridIndex: 0, position: 'right', min: 4.6, max: 10.36, interval: 0.1,
      axisLine: { show: true, lineStyle: { color: '#000' } },
      axisTick: { show: true, length: 4, lineStyle: { color: '#000' } },
      minorTick: { show: true, splitNumber: 2, length: 2, lineStyle: { color: '#000' } },
      splitLine: { show: false },
      axisLabel: Object.assign({}, yLab, { formatter: (v) => (v < 4.65 || v > 10.25) ? '' : v.toFixed(1) }) },
    { type: 'value', gridIndex: 1, position: 'left', min: -10, max: 107.5, interval: 5,
      axisLine: { show: true, lineStyle: { color: '#000' } },
      axisTick: { show: true, length: 4, lineStyle: { color: '#000' } },
      minorTick: { show: true, splitNumber: 2, length: 2, lineStyle: { color: '#000' } },
      splitLine: { show: false },
      axisLabel: Object.assign({}, yLab, { formatter: (v) => (v < -7 || v > 106) ? '' : String(v) }) },
    { type: 'value', gridIndex: 1, position: 'right', min: 0, max: 67500, interval: 5000,
      axisLine: { show: true, lineStyle: { color: '#000' } },
      axisTick: { show: true, length: 4, lineStyle: { color: '#000' } },
      minorTick: { show: true, splitNumber: 5, length: 2, lineStyle: { color: '#000' } },
      splitLine: { show: false },
      axisLabel: Object.assign({}, yLab, { formatter: (v) => (v < 1 || v > 66000) ? '' : String(v) }) }
  ],
  series: [
    { type: 'candlestick', xAxisIndex: 0, yAxisIndex: 0, z: 3,
      data: ohlc.map(d => [d[0], d[3], d[2], d[1]]), barWidth: 2.6,
      itemStyle: { color: '#ffffff', color0: '#000000', borderColor: '#000000', borderColor0: '#000000', borderWidth: 1 },
      markLine: { silent: true, symbol: ['none', 'none'], label: { show: false }, animation: false,
        data: [
          { yAxis: levelBlackHigh, lineStyle: { color: '#000', width: 1.5, type: 'solid' } },
          { yAxis: levelBlueHigh, lineStyle: { color: '#0000ff', width: 1.5, type: 'solid' } },
          { yAxis: levelDashed, lineStyle: { color: '#000', width: 1.5, type: [4, 3] } }
        ] } },
    seg(lineRedDashed, '#ff0000', 1.5, [11, 7]),
    seg(lineBlackLong, '#000', 1),
    seg(lineBlackFlat1, '#000', 1.2),
    seg(lineBlackRise1, '#000', 1.2),
    seg(lineGreenLevel, '#33cc33', 2.6),
    seg(lineBlueLevel, '#0000ff', 1.5),
    seg(lineBlackLevel1, '#000', 1.5),
    seg(lineBlackLevel2, '#000', 1.5),
    seg(lineRedDown, '#ff0000', 1.2),
    seg(lineBlueDown, '#0000ff', 1.3),
    seg(lineBlueDotted, '#0000ff', 1.3, [3, 3]),
    seg(lineGreenRise, '#00dd00', 1.3),
    seg(lineBlackRise2, '#000', 1),
    seg(lineBlackDown2, '#000', 1),
    seg(lineBlackFlat2, '#000', 1),
    seg(lineRedShort, '#ff0000', 1.2),
    seg(lineBlackRise3, '#000', 1),
    seg(lineBlackRise4, '#000', 1),
    seg(lineBlackRise5, '#000', 1),
    seg(fan1, '#000', 1),
    seg(fan2, '#000', 1),
    seg(fan3, '#000', 1.2),
    { type: 'scatter', xAxisIndex: 2, yAxisIndex: 0, z: 8, silent: true,
      data: greenMarks.map(m => ({ value: [m[0], m[1]], label: { formatter: m[2] } })),
      symbol: 'circle', symbolSize: 12, itemStyle: { color: '#2f9e72' },
      label: { show: true, position: 'inside', color: '#fff', fontSize: 9, fontWeight: 'bold', fontFamily: axisFont } },
    { type: 'scatter', xAxisIndex: 2, yAxisIndex: 0, z: 8, silent: true,
      data: blueMarks, symbol: 'circle', symbolSize: [8, 9], itemStyle: { color: '#2448ff' },
      label: { show: true, position: 'inside', formatter: '0', color: '#fff', fontSize: 7, fontWeight: 'bold', fontFamily: axisFont } },
    { type: 'scatter', xAxisIndex: 2, yAxisIndex: 0, z: 8, silent: true,
      data: redArrows, symbol: 'path://M3,0 L6,0 L6,6 L9,6 L4.5,11 L0,6 L3,6 Z', symbolSize: [6, 10],
      itemStyle: { color: '#ff0000' } },
    { type: 'bar', xAxisIndex: 1, yAxisIndex: 3, data: volume, barWidth: 1.4, z: 2,
      itemStyle: { color: '#0000ff' }, silent: true },
    { type: 'line', xAxisIndex: 1, yAxisIndex: 2, data: oscillator, showSymbol: false, symbol: 'none', z: 4,
      lineStyle: { color: '#ff0000', width: 1 }, silent: true,
      markLine: { silent: true, symbol: ['none', 'none'], label: { show: false }, animation: false,
        lineStyle: { color: '#0000ff', width: 1.5, type: 'solid' },
        data: oscLevels.map(v => ({ yAxis: v })) } }
  ],
  graphic: [
    { type: 'text', left: 'center', top: 4, z: 20,
      style: { text: titleText, font: '8.5px Liberation Sans, Arial, sans-serif', fill: '#555' } },
    { type: 'rect', left: 975, top: 61, z: 20,
      shape: { width: 350, height: 81 }, style: { fill: '#dcfad4', stroke: '#000', lineWidth: 1 } },
    { type: 'text', left: 978, top: 63, z: 21,
      style: { text: noteLines.join('\n'), font: 'bold 13px "Liberation Sans Narrow", "DejaVu Sans Condensed", sans-serif',
        fill: '#000', lineHeight: 15.6 } },
    { type: 'rect', left: 1465, top: 561, z: 20,
      shape: { width: 210, height: 12 }, style: { fill: '#fff', stroke: '#000', lineWidth: 1.5 } },
    { type: 'text', left: 1470, top: 562, z: 21,
      style: { text: copyrightText, font: 'bold 9.5px Liberation Sans, Arial, sans-serif', fill: '#000',
        stroke: '#f2df6e', lineWidth: 0.6 } },
    { type: 'rect', left: 1858, top: 889, z: 20,
      shape: { width: 22, height: 8 }, style: { fill: '#fff', stroke: '#000', lineWidth: 0.8 } },
    { type: 'text', left: 1860, top: 890, z: 21,
      style: { text: 'x1000', font: '6px Liberation Sans, Arial, sans-serif', fill: '#333' } }
  ]
};

const chart = echarts.init(document.getElementById('c'), null, { renderer: 'canvas', width: 1890, height: 902 });
chart.setOption(option);
</script>
</body></html>
